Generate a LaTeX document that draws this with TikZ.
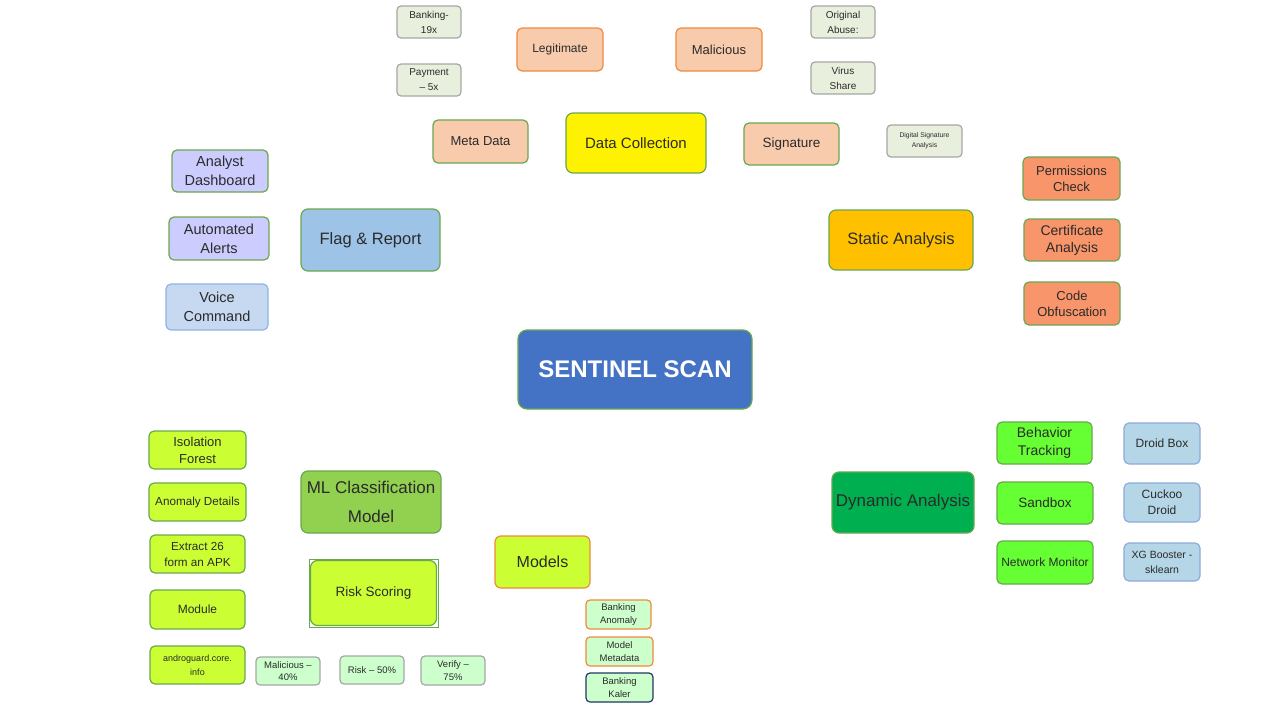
\documentclass[tikz,border=0pt]{standalone}
\usepackage{fontspec}
\setmainfont{Liberation Sans}
\definecolor{greyfill}{HTML}{E9EFDD}
\definecolor{greyline}{HTML}{A6A6A6}
\definecolor{peach}{HTML}{F8CBAD}
\definecolor{orangeline}{HTML}{F08A3C}
\definecolor{greenline}{HTML}{6AA84F}
\definecolor{lavender}{HTML}{CCCCFF}
\definecolor{voicefill}{HTML}{C6D9F0}
\definecolor{voiceline}{HTML}{8EB4E3}
\definecolor{flagfill}{HTML}{9DC3E6}
\definecolor{staticfill}{HTML}{FFC000}
\definecolor{coral}{HTML}{F8956A}
\definecolor{sentinel}{HTML}{4472C4}
\definecolor{lime}{HTML}{CCFF33}
\definecolor{mlgreen}{HTML}{92D050}
\definecolor{mint}{HTML}{CCFFCC}
\definecolor{brightgreen}{HTML}{66FF33}
\definecolor{droidfill}{HTML}{B4D6E6}
\definecolor{droidline}{HTML}{8FAADC}
\definecolor{dyngreen}{HTML}{00B050}
\definecolor{navy}{HTML}{1F3864}
\definecolor{txt}{HTML}{2B2B2B}
\tikzset{
  box/.style={draw, rounded corners=5pt, line width=1.2pt, align=center, inner sep=0pt, text=txt},
  tiny/.style={box, rounded corners=4pt, font=\fontsize{10}{15}\selectfont},
  smallbox/.style={box, font=\fontsize{13}{16}\selectfont},
  bigbox/.style={box, rounded corners=7pt, font=\fontsize{16.5}{29}\selectfont},
  sz/.style 2 args={minimum width=#1pt, minimum height=#2pt},
}
\begin{document}
\begin{tikzpicture}[x=1pt,y=-1pt]
\useasboundingbox (0,0) rectangle (1280,720);
% top
\node[tiny, fill=greyfill, draw=greyline, sz={64}{32}] (bank19) at (429,22) {Banking-\\19x};
\node[tiny, fill=greyfill, draw=greyline, sz={64}{32}] (pay5) at (429,80) {Payment\\– 5x};
\node[box, fill=peach, draw=orangeline, font=\fontsize{12}{16}\selectfont, sz={86}{43}] (legit) at (560,49.5) {Legitimate};
\node[box, fill=peach, draw=orangeline, font=\fontsize{13}{16}\selectfont, sz={86}{43}] (malic) at (719,49.5) {Malicious};
\node[tiny, fill=greyfill, draw=greyline, sz={64}{32}] (orig) at (843,22) {Original\\Abuse:};
\node[tiny, fill=greyfill, draw=greyline, sz={64}{32}] (virus) at (843,78) {Virus\\Share};
\node[box, fill=peach, draw=greenline, font=\fontsize{13}{16}\selectfont, sz={95}{43}] (meta) at (480.5,141.5) {Meta Data};
\node[bigbox, fill=yellow, draw=greenline, font=\fontsize{15}{20}\selectfont, sz={140}{60}] (datacol) at (636,143) {Data Collection};
\node[box, fill=peach, draw=greenline, font=\fontsize{13.5}{16}\selectfont, sz={95}{42}] (sig) at (791.5,144) {Signature};
\node[tiny, fill=greyfill, draw=greyline, font=\fontsize{6.8}{10}\selectfont, sz={75}{32}] (digsig) at (924.5,141) {Digital Signature\\Analysis};
% left top
\node[box, fill=lavender, draw=greenline, font=\fontsize{14.5}{19}\selectfont, sz={96}{42}] (analyst) at (220,171) {Analyst\\Dashboard};
\node[box, fill=lavender, draw=greenline, font=\fontsize{14.5}{19}\selectfont, sz={100}{43}] (alerts) at (219,238.5) {Automated\\Alerts};
\node[box, fill=voicefill, draw=voiceline, font=\fontsize{14.5}{19}\selectfont, sz={102}{46}] (voice) at (217,307) {Voice\\Command};
\node[bigbox, fill=flagfill, draw=greenline, sz={139}{62}] (flag) at (370.5,240) {Flag \& Report};
% right top
\node[bigbox, fill=staticfill, draw=greenline, sz={144}{60}] (static) at (901,240) {Static Analysis};
\node[smallbox, fill=coral, draw=greenline, sz={97}{43}] (perm) at (1071.5,178.5) {Permissions\\Check};
\node[smallbox, fill=coral, draw=greenline, font=\fontsize{14}{17}\selectfont, sz={96}{42}] (cert) at (1072,240) {Certificate\\Analysis};
\node[smallbox, fill=coral, draw=greenline, sz={96}{43}] (code) at (1072,303.5) {Code\\Obfuscation};
% centre
\node[box, rounded corners=9pt, fill=sentinel, draw=greenline, text=white, font=\fontsize{24}{28}\selectfont\bfseries, sz={234}{79}] (sentinel) at (635,369.5) {SENTINEL SCAN};
% left bottom
\node[box, fill=lime, draw=greenline, font=\fontsize{13}{17}\selectfont, sz={97}{38}] (iso) at (197.5,450) {Isolation\\Forest};
\node[box, fill=lime, draw=greenline, font=\fontsize{11.7}{16}\selectfont, sz={97}{38}] (anom) at (197.5,502) {Anomaly Details};
\node[box, fill=lime, draw=greenline, font=\fontsize{11.7}{16}\selectfont, sz={95}{38}] (extract) at (197.5,554) {Extract 26\\form an APK};
\node[box, fill=lime, draw=greenline, font=\fontsize{12}{16}\selectfont, sz={95}{39}] (module) at (197.5,609.5) {Module};
\node[box, fill=lime, draw=greenline, font=\fontsize{9}{14}\selectfont, sz={95}{38}] (andro) at (197.5,665) {androguard.core.\\info};
\node[bigbox, fill=mlgreen, draw=greenline, font=\fontsize{17}{29}\selectfont, sz={140}{62}] (ml) at (371,502) {ML Classification\\Model};
\draw[greenline, line width=0.6pt] (309,559) rectangle (438,627);
\node[box, rounded corners=7pt, fill=lime, draw=greenline, font=\fontsize{13.5}{16}\selectfont, sz={126}{65}] (risk) at (373.5,593) {Risk Scoring};
\node[box, rounded corners=6pt, fill=lime, draw=orangeline, font=\fontsize{16}{18}\selectfont, sz={95}{52}] (models) at (542.5,562) {Models};
\node[box, rounded corners=4pt, fill=mint, draw=orangeline, font=\fontsize{9.5}{12.5}\selectfont, sz={65}{29}] (bankanom) at (618.5,614.5) {Banking\\Anomaly};
\node[box, rounded corners=4pt, fill=mint, draw=orangeline, font=\fontsize{9.5}{12.5}\selectfont, sz={67}{29}] (modelmeta) at (619.5,651.5) {Model\\Metadata};
\node[box, rounded corners=4pt, fill=mint, draw=navy, font=\fontsize{9.5}{12.5}\selectfont, sz={67}{29}] (bankkaler) at (619.5,687.5) {Banking\\Kaler};
\node[box, rounded corners=4pt, fill=mint, draw=greyline, font=\fontsize{9.5}{12.5}\selectfont, sz={64}{28}] (mal40) at (288,671) {Malicious –\\40\%};
\node[box, rounded corners=4pt, fill=mint, draw=greyline, font=\fontsize{9.5}{12.5}\selectfont, sz={64}{28}] (risk50) at (372,670) {Risk – 50\%};
\node[box, rounded corners=4pt, fill=mint, draw=greyline, font=\fontsize{9.5}{12.5}\selectfont, sz={64}{29}] (verify) at (453,670.5) {Verify –\\75\%};
% right bottom
\node[bigbox, fill=dyngreen, draw=greenline, font=\fontsize{17}{20}\selectfont, sz={142}{61}] (dynamic) at (903,502.5) {Dynamic Analysis};
\node[box, fill=brightgreen, draw=greenline, font=\fontsize{14}{18}\selectfont, sz={95}{42}] (behav) at (1044.5,443) {Behavior\\Tracking};
\node[box, fill=brightgreen, draw=greenline, font=\fontsize{13.5}{18}\selectfont, sz={96}{42}] (sandbox) at (1045,503) {Sandbox};
\node[box, fill=brightgreen, draw=greenline, font=\fontsize{12}{16}\selectfont, sz={96}{43}] (netmon) at (1045,562.5) {Network Monitor};
\node[box, fill=droidfill, draw=droidline, font=\fontsize{12}{15}\selectfont, sz={76}{41}] (droidbox) at (1162,443.5) {Droid Box};
\node[box, fill=droidfill, draw=droidline, font=\fontsize{12}{16}\selectfont, sz={76}{39}] (cuckoo) at (1162,502.5) {Cuckoo\\Droid};
\node[box, fill=droidfill, draw=droidline, font=\fontsize{10.5}{15}\selectfont, sz={76}{38}] (xg) at (1162,562) {XG Booster -\\sklearn};
\end{tikzpicture}
\end{document}
